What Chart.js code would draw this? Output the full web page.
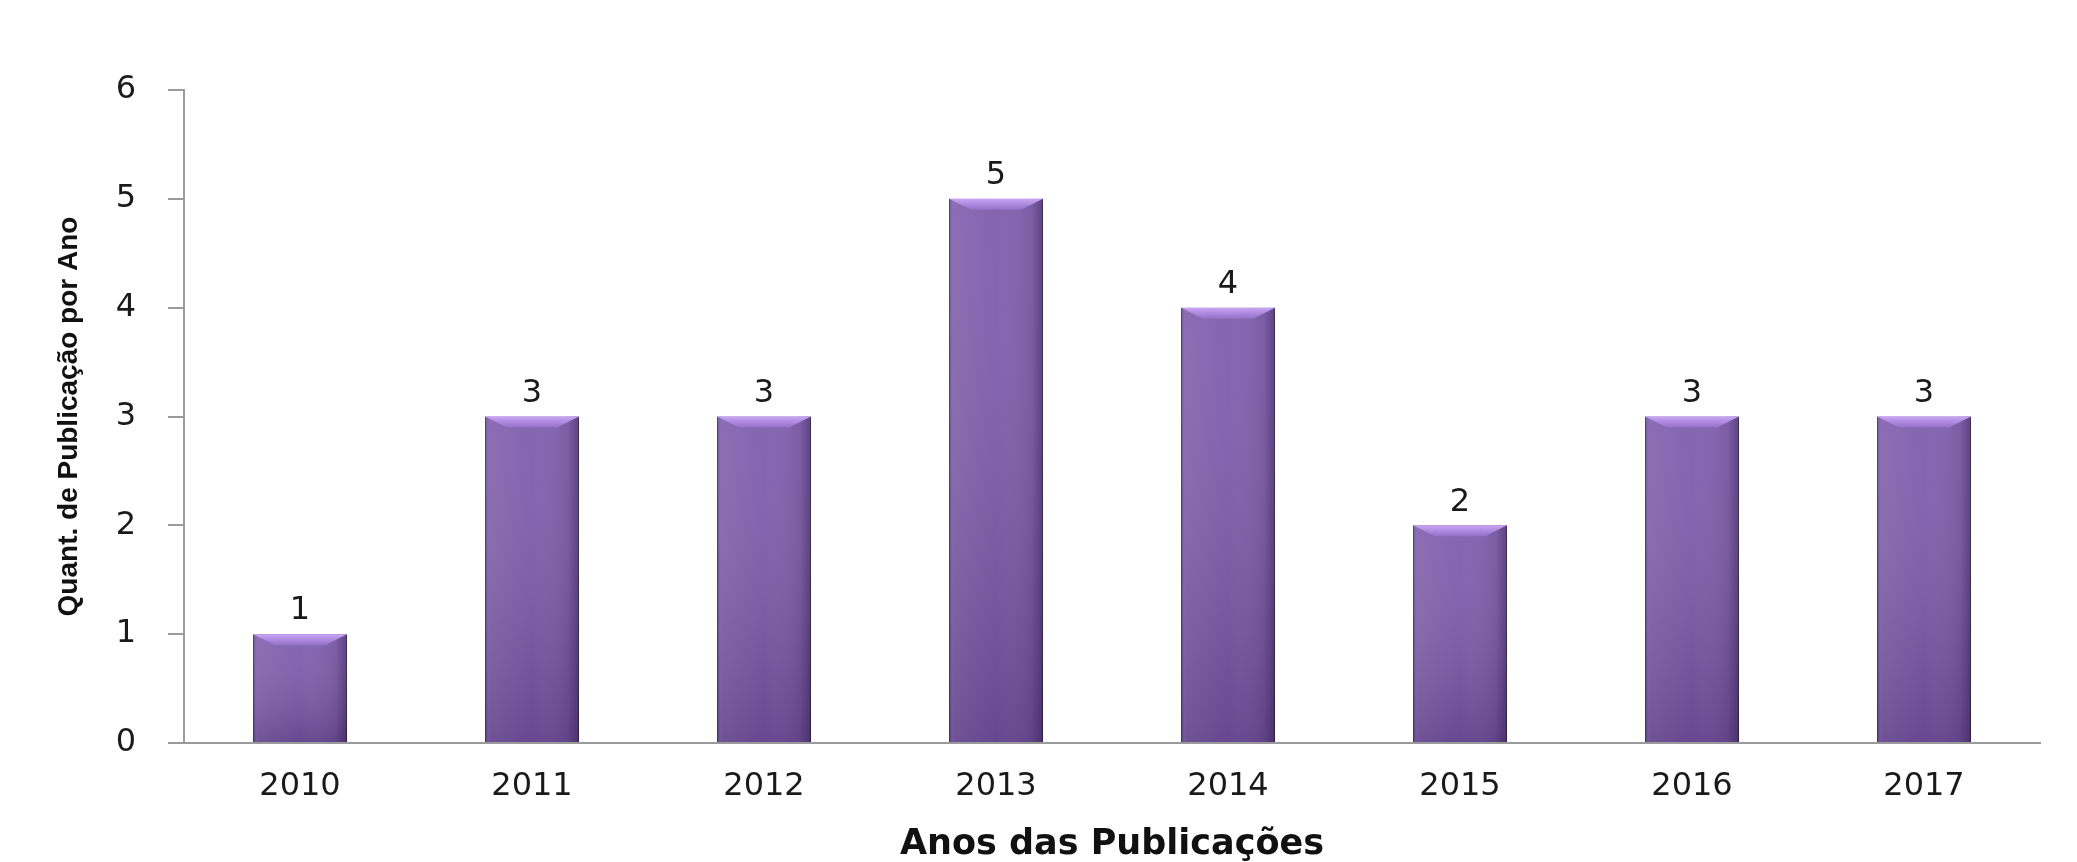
<!DOCTYPE html>
<html>
<head>
<meta charset="utf-8">
<script src="https://cdn.jsdelivr.net/npm/chart.js@4"></script>
<style>
  html, body { margin: 0; padding: 0; background: #fff; }
  #wrap { width: 2077px; height: 862px; }
</style>
</head>
<body>
<div id="wrap"><canvas id="chart"></canvas></div>
<script>
// chart data
const years = ['2010', '2011', '2012', '2013', '2014', '2015', '2016', '2017'];
const publicacoes = [1, 3, 3, 5, 4, 2, 3, 3];
const yTicks = [0, 1, 2, 3, 4, 5, 6];

const tickFont = { family: 'DejaVu Sans', size: 32 };

// draws the value above each bar
const valueLabels = {
    id: 'valueLabels',
    afterDatasetsDraw(chart) {
        const ctx = chart.ctx;
        const meta = chart.getDatasetMeta(0);
        ctx.save();
        ctx.font = '32px "DejaVu Sans"';
        ctx.fillStyle = '#1a1a1a';
        ctx.textAlign = 'center';
        ctx.textBaseline = 'bottom';
        meta.data.forEach((bar, i) => {
            ctx.fillText(String(publicacoes[i]), bar.x, bar.y - 7);
        });
        ctx.restore();
    }
};

// soft shadow + bevel shading on the bars
const barStyle = {
    id: 'barStyle',
    beforeDatasetDraw(chart) {
        const ctx = chart.ctx;
        ctx.save();
        ctx.shadowColor = 'rgba(0,0,0,0.4)';
        ctx.shadowBlur = 8;
        ctx.shadowOffsetX = 2;
        ctx.shadowOffsetY = 1;
    },
    afterDatasetDraw(chart) {
        const ctx = chart.ctx;
        ctx.restore();
        const meta = chart.getDatasetMeta(0);
        ctx.save();
        meta.data.forEach(bar => {
            const l = bar.x - bar.width / 2;
            const r = bar.x + bar.width / 2;
            const t = bar.y;
            const b = bar.base;
            const w = r - l;

            // vertical shading
            let g = ctx.createLinearGradient(0, t, 0, b);
            g.addColorStop(0, 'rgba(255,255,255,0.06)');
            g.addColorStop(1, 'rgba(25,5,50,0.22)');
            ctx.fillStyle = g;
            ctx.fillRect(l, t, w, b - t);

            // side shading
            g = ctx.createLinearGradient(l, 0, r, 0);
            g.addColorStop(0, 'rgba(40,20,70,0.30)');
            g.addColorStop(0.06, 'rgba(255,255,255,0.06)');
            g.addColorStop(0.5, 'rgba(255,255,255,0.0)');
            g.addColorStop(0.88, 'rgba(20,5,40,0.08)');
            g.addColorStop(1, 'rgba(20,5,40,0.35)');
            ctx.fillStyle = g;
            ctx.fillRect(l, t, w, b - t);

            // top bevel
            const bh = 11;
            g = ctx.createLinearGradient(0, t, 0, t + bh);
            g.addColorStop(0, '#c9a4f6');
            g.addColorStop(1, '#9470c8');
            ctx.fillStyle = g;
            ctx.beginPath();
            ctx.moveTo(l, t);
            ctx.lineTo(r, t);
            ctx.lineTo(r - 22, t + bh);
            ctx.lineTo(l + 22, t + bh);
            ctx.closePath();
            ctx.fill();
        });
        ctx.restore();
    }
};

new Chart(document.getElementById('chart'), {
    type: 'bar',
    data: {
        labels: years,
        datasets: [{
            label: 'Quant. de Publicação por Ano',
            data: publicacoes,
            backgroundColor: '#7d5aab',
            borderColor: '#5a417f',
            borderWidth: 1,
            categoryPercentage: 1.0,
            barPercentage: 0.405
        }]
    },
    options: {
        responsive: true,
        maintainAspectRatio: false,
        animation: false,
        layout: {
            padding: { top: 90, right: 37, bottom: 0, left: 0 }
        },
        plugins: {
            legend: { display: false },
            tooltip: { enabled: false }
        },
        scales: {
            x: {
                grid: { display: false, drawTicks: false },
                border: { display: true, color: '#9a9a9a', width: 2 },
                ticks: {
                    color: '#1a1a1a',
                    font: tickFont,
                    padding: 24
                },
                title: {
                    display: true,
                    text: 'Anos das Publicações',
                    color: '#111',
                    font: { family: 'DejaVu Sans', size: 35, weight: 'bold', lineHeight: 1.0 },
                    padding: { top: 0, bottom: 0 }
                },
                afterFit(scale) { scale.height = 119; }
            },
            y: {
                min: 0,
                max: 6,
                grid: {
                    drawOnChartArea: false,
                    drawTicks: true,
                    tickLength: 16,
                    color: '#9a9a9a',
                    lineWidth: 2
                },
                border: { display: true, color: '#9a9a9a', width: 2 },
                afterBuildTicks(scale) {
                    scale.ticks = yTicks.map(v => ({ value: v }));
                },
                ticks: {
                    color: '#1a1a1a',
                    font: tickFont,
                    padding: 32
                },
                title: {
                    display: true,
                    text: 'Quant. de Publicação por Ano',
                    color: '#111',
                    font: { family: '"Liberation Sans Narrow", "Liberation Sans", Arial', size: 28, weight: 'bold', lineHeight: 1.0 },
                    padding: { top: 55, bottom: 0 }
                },
                afterFit(scale) { scale.width = 184; }
            }
        }
    },
    plugins: [barStyle, valueLabels]
});
</script>
</body>
</html>
